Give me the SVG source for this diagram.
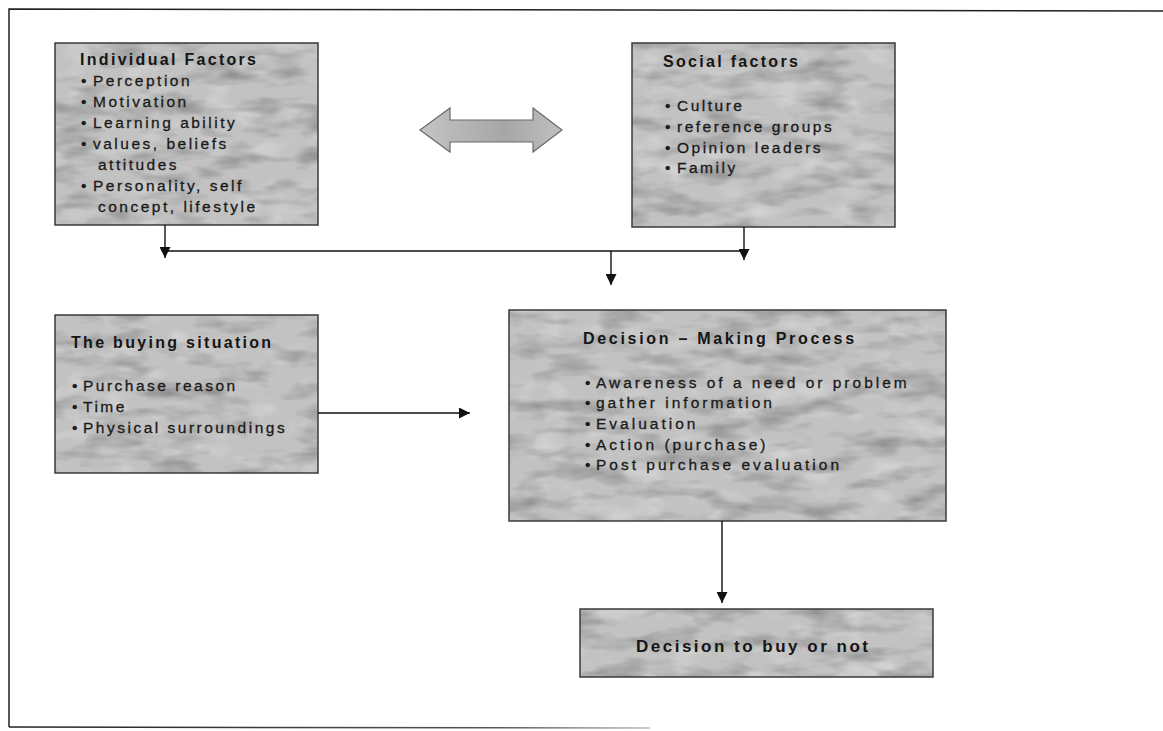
<svg xmlns="http://www.w3.org/2000/svg" width="1163" height="731" viewBox="0 0 1163 731">
<defs>
<style>
.bg{fill:#c2c2c2}
.bd{fill:none;stroke:#3a3a3a;stroke-width:1.5}
.t{font-family:"Liberation Sans",Arial,sans-serif;font-size:16px;font-weight:bold;letter-spacing:2.3px;fill:#151515}
.i{font-family:"Liberation Sans",Arial,sans-serif;font-size:15.5px;letter-spacing:2.5px;fill:#1a1a1a;stroke:#1a1a1a;stroke-width:0.3px}
.w{letter-spacing:3px}
.tw{letter-spacing:2.7px}
.d{font-family:"Liberation Sans",Arial,sans-serif;font-size:17px;font-weight:bold;letter-spacing:2.5px;fill:#151515}
.c{fill:none;stroke:#111;stroke-width:1.4}
.frame{fill:none;stroke:#222;stroke-width:1.5}
</style>
<filter id="tex" x="0" y="0" width="1" height="1" color-interpolation-filters="sRGB">
<feTurbulence type="fractalNoise" baseFrequency="0.02 0.06" numOctaves="3" seed="7" result="n"/>
<feColorMatrix in="n" type="matrix" values="0 0 0 0 0.5 0 0 0 0 0.5 0 0 0 0 0.5 0 0 0 1.7 -0.78" result="dk"/>
<feComposite in="dk" in2="SourceGraphic" operator="in" result="dc"/>
<feTurbulence type="fractalNoise" baseFrequency="0.03 0.05" numOctaves="2" seed="21" result="n2"/>
<feColorMatrix in="n2" type="matrix" values="0 0 0 0 0.88 0 0 0 0 0.88 0 0 0 0 0.88 0 0 0 1.6 -0.8" result="lt"/>
<feComposite in="lt" in2="SourceGraphic" operator="in" result="lc"/>
<feMerge><feMergeNode in="SourceGraphic"/><feMergeNode in="lc"/><feMergeNode in="dc"/></feMerge>
</filter>
<linearGradient id="fade" x1="0" y1="0" x2="1" y2="0">
<stop offset="0" stop-color="#222"/><stop offset="0.75" stop-color="#555"/><stop offset="1" stop-color="#bbb"/>
</linearGradient>
<linearGradient id="arr" x1="0" y1="0" x2="1" y2="0">
<stop offset="0" stop-color="#c4c4c4"/><stop offset="0.6" stop-color="#a6a6a6"/><stop offset="1" stop-color="#c0c0c0"/>
</linearGradient>
<marker id="ah" viewBox="0 0 10 10" refX="10" refY="5" markerWidth="11" markerHeight="11" markerUnits="userSpaceOnUse" orient="auto">
<path d="M0,0 L10,5 L0,10 Z" fill="#111"/>
</marker>
</defs>
<rect width="1163" height="731" fill="#fff"/>
<g id="frame">
<path class="frame" d="M1163,11 L9,9 L9,727"/>
<path d="M9,727 L650,728" fill="none" stroke="url(#fade)" stroke-width="1.5"/>
</g>
<g id="individual">
<rect class="bg" x="55" y="43" width="263" height="182" filter="url(#tex)"/>
<rect class="bd" x="55" y="43" width="263" height="182"/>
<text class="t" x="80" y="65">Individual Factors</text>
<text class="i" y="86"><tspan x="81">•</tspan><tspan x="93">Perception</tspan></text>
<text class="i" y="107"><tspan x="81">•</tspan><tspan x="93">Motivation</tspan></text>
<text class="i" y="128"><tspan x="81">•</tspan><tspan x="93">Learning ability</tspan></text>
<text class="i" y="149"><tspan x="81">•</tspan><tspan x="93">values, beliefs</tspan></text>
<text class="i" x="98" y="170">attitudes</text>
<text class="i" y="191"><tspan x="81">•</tspan><tspan x="93">Personality, self</tspan></text>
<text class="i" x="98" y="212">concept, lifestyle</text>
</g>
<g id="social">
<rect class="bg" x="632" y="43" width="263" height="184" filter="url(#tex)"/>
<rect class="bd" x="632" y="43" width="263" height="184"/>
<text class="t" x="663" y="67">Social factors</text>
<text class="i" y="111"><tspan x="665">•</tspan><tspan x="677">Culture</tspan></text>
<text class="i" y="132"><tspan x="665">•</tspan><tspan x="677">reference groups</tspan></text>
<text class="i" y="153"><tspan x="665">•</tspan><tspan x="677">Opinion leaders</tspan></text>
<text class="i" y="173"><tspan x="665">•</tspan><tspan x="677">Family</tspan></text>
</g>
<g id="buying">
<rect class="bg" x="55" y="315" width="263" height="158" filter="url(#tex)"/>
<rect class="bd" x="55" y="315" width="263" height="158"/>
<text class="t" x="71" y="348">The buying situation</text>
<text class="i" y="391"><tspan x="72">•</tspan><tspan x="83">Purchase reason</tspan></text>
<text class="i" y="412"><tspan x="72">•</tspan><tspan x="83">Time</tspan></text>
<text class="i" y="433"><tspan x="72">•</tspan><tspan x="83">Physical surroundings</tspan></text>
</g>
<g id="decision">
<rect class="bg" x="509" y="310" width="437" height="211" filter="url(#tex)"/>
<rect class="bd" x="509" y="310" width="437" height="211"/>
<text class="t tw" x="583" y="344">Decision – Making Process</text>
<text class="i w" y="388"><tspan x="585">•</tspan><tspan x="596">Awareness of a need or problem</tspan></text>
<text class="i w" y="408"><tspan x="585">•</tspan><tspan x="596">gather information</tspan></text>
<text class="i w" y="429"><tspan x="585">•</tspan><tspan x="596">Evaluation</tspan></text>
<text class="i w" y="450"><tspan x="585">•</tspan><tspan x="596">Action (purchase)</tspan></text>
<text class="i w" y="470"><tspan x="585">•</tspan><tspan x="596">Post purchase evaluation</tspan></text>
</g>
<g id="outcome">
<rect class="bg" x="580" y="609" width="353" height="68" filter="url(#tex)"/>
<rect class="bd" x="580" y="609" width="353" height="68"/>
<text class="d" x="636" y="652">Decision to buy or not</text>
</g>
<g id="connectors">
<path d="M420,130 L450,108 L450,120 L533,120 L533,108 L562,130 L533,152 L533,142 L450,142 L450,152 Z" fill="url(#arr)" stroke="#6a6a6a" stroke-width="1.2" stroke-linejoin="miter"/>
<path class="c" d="M165,225 V258" marker-end="url(#ah)"/>
<path class="c" d="M165,251 H744"/>
<path class="c" d="M744,227 V260" marker-end="url(#ah)"/>
<path class="c" d="M611,251 V285" marker-end="url(#ah)"/>
<path class="c" d="M318,413 H470" marker-end="url(#ah)"/>
<path class="c" d="M722,521 V603" marker-end="url(#ah)"/>
</g>
</svg>
